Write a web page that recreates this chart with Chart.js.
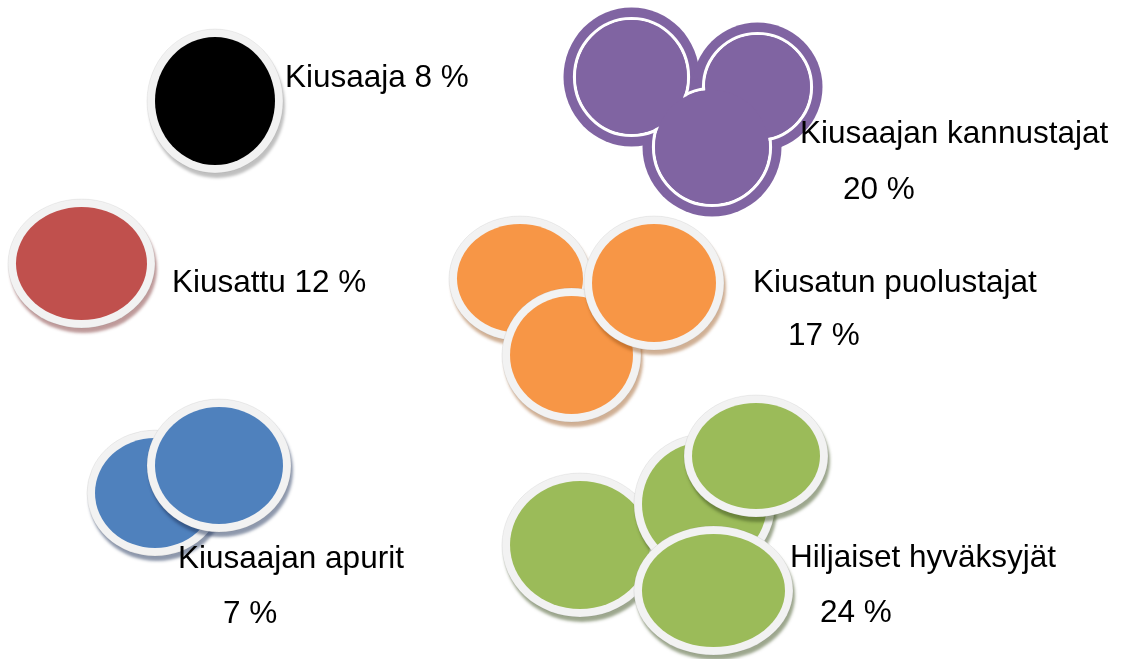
<!DOCTYPE html>
<html>
<head>
<meta charset="utf-8">
<script src="https://cdn.jsdelivr.net/npm/chart.js@4/dist/chart.umd.min.js"></script>
<style>
  html, body { margin: 0; padding: 0; background: #fff; }
</style>
</head>
<body>
<canvas id="graficoRoolit" width="1130" height="659"></canvas>
<script>
// Roolit ja osuudet
const roolit = ["Kiusaaja", "Kiusaajan kannustajat", "Kiusattu", "Kiusatun puolustajat", "Kiusaajan apurit", "Hiljaiset hyväksyjät"];
const osuudet = [8, 20, 12, 17, 7, 24];
const kaksiRivia = [false, true, false, true, true, true];

// Kolikoiden keskipisteet asteikon yksiköissä (takimmainen ensin)
const kolikkoX = [[215], [631.5, 757.5, 712], [81.5], [520, 571.5, 654], [155, 219], [580, 704.5, 756, 713.5]];
const kolikkoY = [[101], [77, 87, 147], [263.5], [278.5, 355, 283], [493, 465.5], [545, 504, 456, 590.5]];

// Ulkoasu: koot, värit, tekstien paikat
const kolikkoRx = [[60], [58.5, 55.5, 60], [65.5], [63, 61.5, 62], [60, 64], [70, 62.5, 64, 71.5]];
const kolikkoRy = [[64], [60, 55, 60], [56.5], [54.5, 59, 59], [55, 58.5], [64, 62, 53, 56.5]];
const varit = ["#000000", "#8064a2", "#c0504d", "#f79646", "#4f81bd", "#9bbb59"];
const varjot = ["rgba(0,0,0,0.25)", null, "rgba(110,30,30,0.45)", "rgba(150,80,20,0.45)", "rgba(30,50,90,0.5)", "rgba(60,80,30,0.5)"];
const tekstiPaikat = [
  [[285, 87]],
  [[800, 143], [843, 199]],
  [[172, 292]],
  [[753, 292], [788, 345]],
  [[178, 568], [223, 623]],
  [[790, 567], [820, 622]]
];

const RENGAS = 8;

function kolikko(rx, ry, vari, varjo) {
  const pad = 14;
  const c = document.createElement("canvas");
  c.width = Math.ceil(2 * (rx + RENGAS + pad));
  c.height = Math.ceil(2 * (ry + RENGAS + pad));
  const g = c.getContext("2d");
  const cx = c.width / 2, cy = c.height / 2;
  g.save();
  g.shadowColor = varjo;
  g.shadowOffsetX = 2;
  g.shadowOffsetY = 5;
  g.shadowBlur = 3;
  g.fillStyle = "#f2f2f2";
  g.beginPath();
  g.ellipse(cx, cy, rx + RENGAS, ry + RENGAS, 0, 0, Math.PI * 2);
  g.fill();
  g.restore();
  g.strokeStyle = "rgba(0,0,0,0.06)";
  g.lineWidth = 1;
  g.stroke();
  g.fillStyle = vari;
  g.beginPath();
  g.ellipse(cx, cy, rx, ry, 0, 0, Math.PI * 2);
  g.fill();
  return c;
}

// violetti ryhmä: ulkoreuna, valkoinen rengas, täyttö omina kerroksinaan
function kerros(rx, ry, vari, tyyppi) {
  const pad = 14;
  const c = document.createElement("canvas");
  c.width = Math.ceil(2 * (rx + pad + 10));
  c.height = Math.ceil(2 * (ry + pad + 10));
  const g = c.getContext("2d");
  const cx = c.width / 2, cy = c.height / 2;
  g.beginPath();
  if (tyyppi === "ulko") {
    g.ellipse(cx, cy, rx + 9.5, ry + 9.5, 0, 0, Math.PI * 2);
    g.fillStyle = vari;
    g.fill();
  } else if (tyyppi === "rengas") {
    g.ellipse(cx, cy, rx - 1.5, ry - 1.5, 0, 0, Math.PI * 2);
    g.strokeStyle = "#ffffff";
    g.lineWidth = 3.2;
    g.stroke();
  } else {
    g.ellipse(cx, cy, rx - 3.1, ry - 3.1, 0, 0, Math.PI * 2);
    g.fillStyle = vari;
    g.fill();
  }
  return c;
}

const datasets = [];
roolit.forEach((nimi, i) => {
  const pisteet = kolikkoX[i].map((x, j) => ({ x: x, y: kolikkoY[i][j] }));
  if (varjot[i] === null) {
    [["ulko", 3], ["rengas", 2], ["sisa", 1]].forEach(([tyyppi, jarjestys]) => {
      const kuvat = pisteet.map((_, j) => kerros(kolikkoRx[i][j], kolikkoRy[i][j], varit[i], tyyppi));
      datasets.push({
        label: nimi,
        data: pisteet,
        order: jarjestys,
        pointRadius: 5,
        pointStyle: (c) => kuvat[c.dataIndex]
      });
    });
  } else {
    const kuvat = pisteet.map((_, j) => kolikko(kolikkoRx[i][j], kolikkoRy[i][j], varit[i], varjot[i]));
    datasets.push({
      label: nimi,
      data: pisteet,
      order: 0,
      pointRadius: 5,
      pointStyle: (c) => kuvat[c.dataIndex]
    });
  }
});

const tekstit = {
  id: "tekstit",
  afterDraw(chart) {
    const ctx = chart.ctx;
    const sx = chart.scales.x, sy = chart.scales.y;
    ctx.save();
    ctx.fillStyle = "#000000";
    ctx.font = "31.5px 'Liberation Sans', Arial, sans-serif";
    ctx.textBaseline = "alphabetic";
    ctx.textAlign = "left";
    roolit.forEach((nimi, i) => {
      const rivit = kaksiRivia[i] ? [nimi, osuudet[i] + " %"] : [nimi + " " + osuudet[i] + " %"];
      rivit.forEach((rivi, k) => {
        const p = tekstiPaikat[i][k];
        ctx.fillText(rivi, sx.getPixelForValue(p[0]), sy.getPixelForValue(p[1]));
      });
    });
    ctx.restore();
  }
};

const ctx = document.getElementById("graficoRoolit").getContext("2d");
new Chart(ctx, {
  type: "scatter",
  data: { datasets: datasets },
  options: {
    responsive: false,
    animation: false,
    events: [],
    layout: { padding: 0, autoPadding: false },
    scales: {
      x: { type: "linear", min: 0, max: 1130, display: false },
      y: { type: "linear", min: 0, max: 659, reverse: true, display: false }
    },
    plugins: {
      legend: { display: false },
      tooltip: { enabled: false }
    }
  },
  plugins: [tekstit]
});
</script>
</body>
</html>
